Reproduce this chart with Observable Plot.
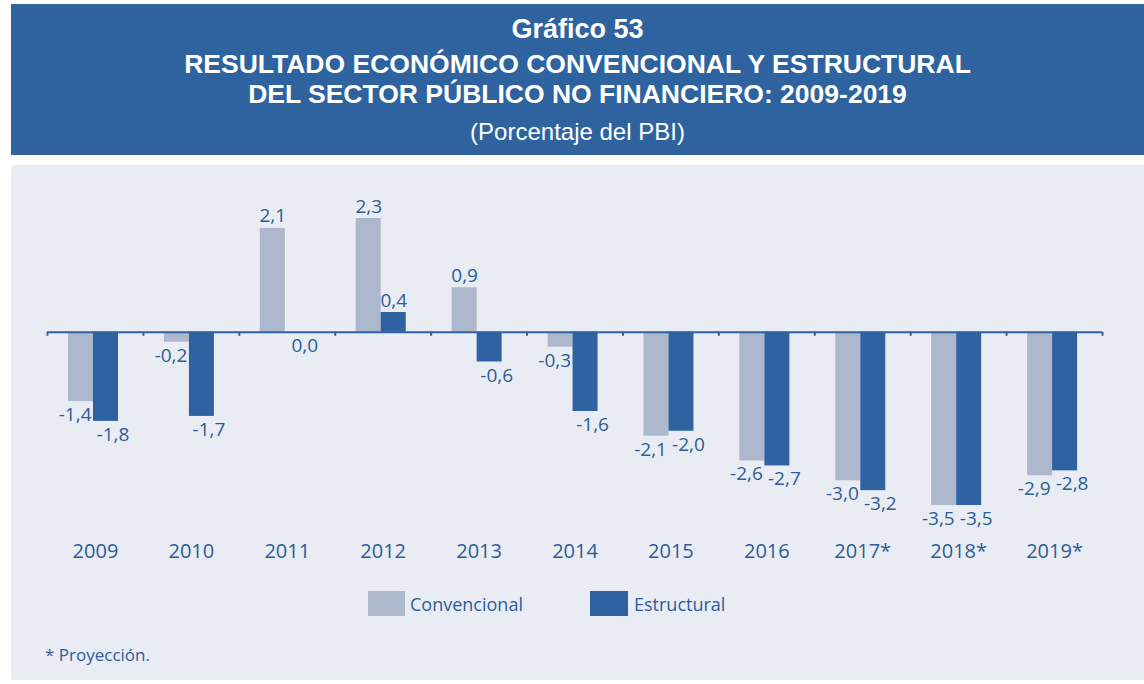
<!DOCTYPE html>
<html>
<head>
<meta charset="utf-8">
<script src="https://cdn.jsdelivr.net/npm/d3@7"></script>
<script src="https://cdn.jsdelivr.net/npm/@observablehq/plot@0.6"></script>
<style>
  html, body { margin: 0; padding: 0; background: #ffffff; width: 1144px; height: 684px; overflow: hidden; font-family: "Open Sans", sans-serif; }
  #banner { position: absolute; left: 11px; top: 4px; width: 1133px; height: 151px; background: #2e63a0; }
  .tl { position: absolute; left: 0; width: 1133px; text-align: center; color: #ffffff; white-space: nowrap; font-family: "Liberation Sans", Arial, sans-serif; }
  #panel { position: absolute; left: 11px; top: 165px; width: 1133px; height: 515px; background: #e9ecf2; }
  #chart { position: absolute; left: 11px; top: 165px; }
  .lg { position: absolute; color: #2d5c9a; font-size: 18px; line-height: 24px; white-space: nowrap; }
  .sw { position: absolute; }
</style>
</head>
<body>
<div id="banner">
  <div class="tl" style="top:8px; line-height:34px; font-size:27px; font-weight:700;">Gráfico 53</div>
  <div class="tl" style="top:45px; line-height:30px; font-size:26.5px; font-weight:700;">RESULTADO ECONÓMICO CONVENCIONAL Y ESTRUCTURAL</div>
  <div class="tl" style="top:75px; line-height:30px; font-size:26.5px; font-weight:700;">DEL SECTOR PÚBLICO NO FINANCIERO: 2009-2019</div>
  <div class="tl" style="top:113px; line-height:30px; font-size:24px; font-weight:400;">(Porcentaje del PBI)</div>
</div>
<div id="panel"></div>
<div id="chart"></div>
<div class="sw" style="left:368px; top:591px; width:37px; height:25px; background:#adb8cc;"></div>
<div class="lg" style="left:410px; top:592px;">Convencional</div>
<div class="sw" style="left:590px; top:591px; width:38px; height:25px; background:#2e62a0;"></div>
<div class="lg" style="left:634px; top:592px;">Estructural</div>
<div class="lg" style="left:45px; top:643px; font-size:17px;">* Proyección.</div>
<script>
const years = ["2009","2010","2011","2012","2013","2014","2015","2016","2017*","2018*","2019*"];
const convencional = [-1.4, -0.2, 2.1, 2.3, 0.9, -0.3, -2.1, -2.6, -3.0, -3.5, -2.9];
const estructural = [-1.8, -1.7, 0.0, 0.4, -0.6, -1.6, -2.0, -2.7, -3.2, -3.5, -2.8];

const conv = years.map((y, i) => ({year: y, value: convencional[i]}));
const estr = years.map((y, i) => ({year: y, value: estructural[i]}));
const fmt = v => v.toFixed(1).replace(".", ",");

const W = 1133, mL = 36, mR = 42;
const step = (W - mL - mR) / years.length;
const textColor = "#2d5c9a";
const grayC = "#adb8cc", blueC = "#2e62a0";
const fs = 19;

const chart = Plot.plot({
  width: W,
  height: 400,
  marginLeft: mL,
  marginRight: mR,
  marginTop: 53,
  marginBottom: 60,
  style: {background: "transparent", fontFamily: "Open Sans, sans-serif", color: textColor},
  x: {domain: years, padding: 0, round: false, label: null},
  y: {domain: [-3.5, 2.3], axis: null},
  marks: [
    Plot.barY(conv, {x: "year", y: "value", fill: grayC, insetLeft: 21, insetRight: step - 46}),
    Plot.text(conv.filter(d => d.value < 0), {x: "year", y: "value", text: d => fmt(d.value), textAnchor: "end", lineAnchor: "top", dx: 44 - step / 2, dy: 6, fill: textColor, fontSize: fs}),
    Plot.text(conv.filter(d => d.value >= 0), {x: "year", y: "value", text: d => fmt(d.value), textAnchor: "middle", lineAnchor: "bottom", dx: 33.5 - step / 2, dy: -6, fill: textColor, fontSize: fs}),
    Plot.barY(estr, {x: "year", y: "value", fill: blueC, insetLeft: 46, insetRight: step - 71}),
    Plot.ruleY([0], {stroke: blueC, strokeWidth: 2}),
    Plot.ruleX(years, {x: d => d, y1: 0, y2: -0.08, dx: -step / 2, stroke: blueC, strokeWidth: 2}),
    Plot.ruleX(years.slice(-1), {x: d => d, y1: 0, y2: -0.08, dx: step / 2, stroke: blueC, strokeWidth: 2}),
    Plot.text(estr.filter(d => d.value <= 0), {x: "year", y: "value", text: d => fmt(d.value), textAnchor: "middle", lineAnchor: "top", dx: 58.5 - step / 2 + 7, dy: 6, fill: textColor, fontSize: fs}),
    Plot.text(estr.filter(d => d.value > 0), {x: "year", y: "value", text: d => fmt(d.value), textAnchor: "middle", lineAnchor: "bottom", dx: 58.5 - step / 2, dy: -6, fill: textColor, fontSize: fs}),
    Plot.axisX({tickSize: 0, tickPadding: 38, fontSize: 20, fill: textColor, label: null})
  ]
});
document.getElementById("chart").appendChild(chart);
</script>
</body>
</html>
